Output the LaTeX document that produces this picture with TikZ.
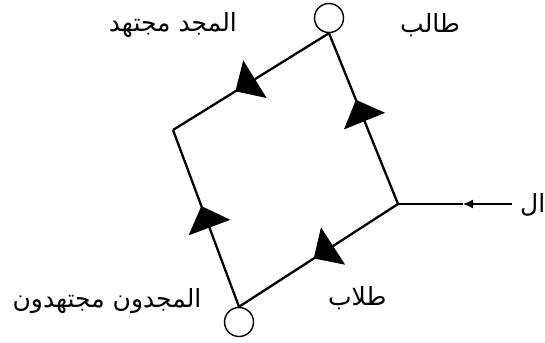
\documentclass[tikz,border=0pt]{standalone}
\usepackage{fontspec}
\newfontfamily\arabicfont[Script=Arabic]{DejaVu Sans}
\TeXXeTstate=1
\usetikzlibrary{arrows.meta,decorations.markings}
\tikzset{
  ring/.style={draw, circle, line width=1.4pt, minimum size=29pt, inner sep=0pt},
  edgeline/.style={line width=2.3pt},
  bigtri/.style={postaction={decorate}, decoration={markings, mark=at position #1 with {\arrow{Triangle[length=23pt 0 0, width=44pt 0 0]}}}},
  lbl/.style={font=\arabicfont\fontsize{25}{28}\selectfont, inner sep=0pt}
}
\begin{document}
\begin{tikzpicture}[x=1pt, y=-1pt]
\useasboundingbox (0,0) rectangle (545,342);
\node[ring] (ctop) at (329,18) {};
\node[ring] (cbot) at (239,322) {};
\coordinate (L) at (173,130);
\coordinate (R) at (398,204);
\coordinate (E) at (512,204);
\coordinate (M) at (463,204);
\draw[edgeline, bigtri=0.6] (ctop.south) -- (L);
\draw[edgeline, bigtri=0.57] (cbot.north) -- (L);
\draw[edgeline, bigtri=0.61] (R) -- (ctop.south);
\draw[edgeline, bigtri=0.53] (R) -- (cbot.north);
\draw[line width=2.8pt] (R) -- (M);
\draw[line width=1.3pt, -{Latex[length=10pt, width=9pt]}] (E) -- (M);
\node[lbl, anchor=east] (t1) at (237,25) {\beginR المجد مجتهد\endR};
\node[lbl, anchor=west] (t2) at (400,25) {\beginR طالب\endR};
\node[lbl, anchor=west] (t3) at (520,205) {\beginR ال\endR};
\node[lbl] (t4) at (107,301) {\beginR المجدون مجتهدون\endR};
\node[lbl, anchor=west] (t5) at (328,298) {\beginR طلاب\endR};
\end{tikzpicture}
\end{document}
